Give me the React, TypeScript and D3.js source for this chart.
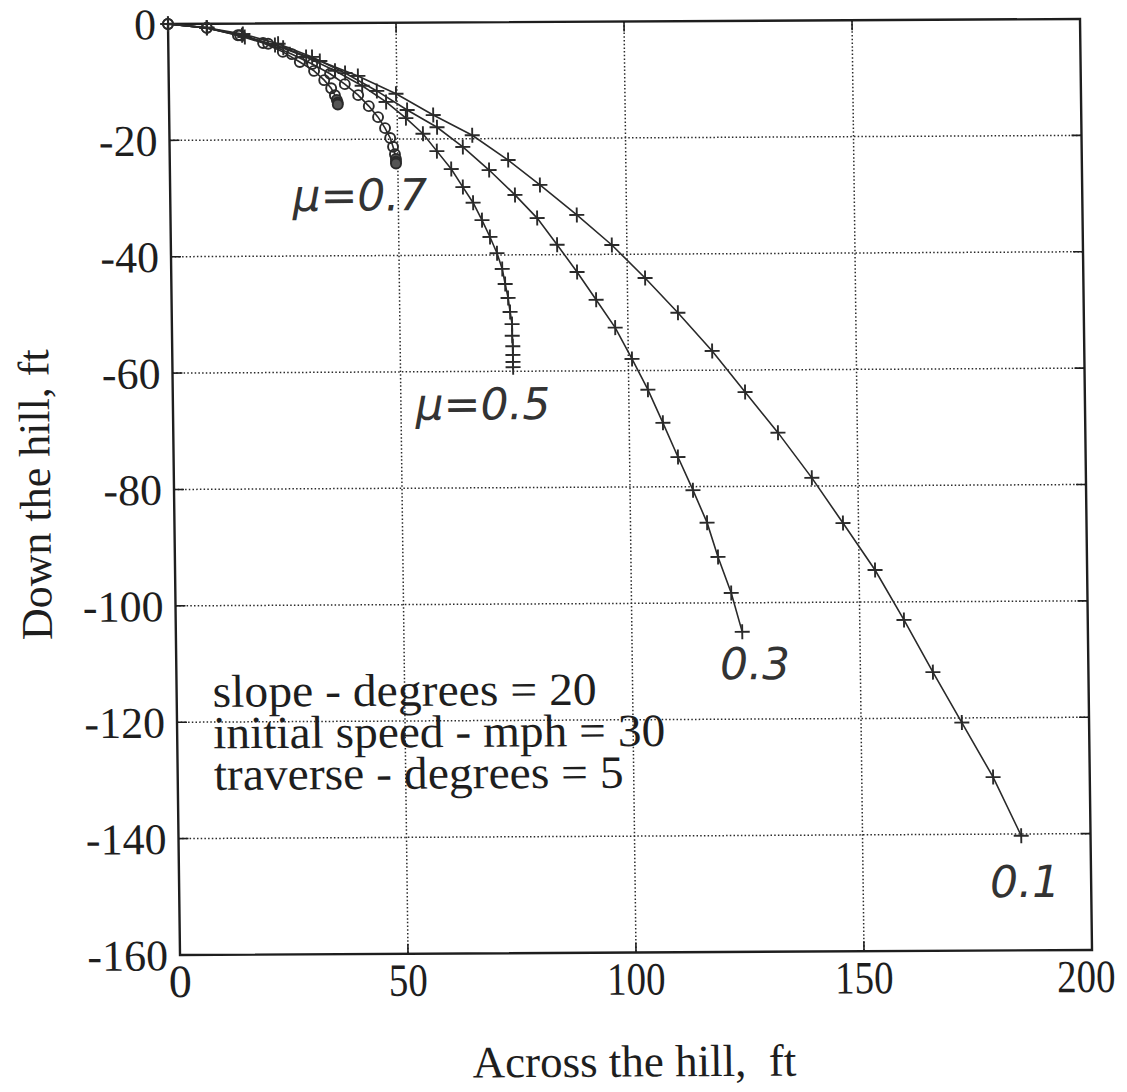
import React, { useEffect, useRef } from 'react';
import * as d3 from 'd3';

// ---------- data (feet) ----------
const xTicks = [0, 50, 100, 150, 200];
const yTicks = [0, -20, -40, -60, -80, -100, -120, -140, -160];

const mu01X = [0, 8.5, 16.8, 25.2, 33.2, 41.5, 49.8, 57.9, 66.4, 74.2, 81.1, 89.1, 96.7, 103.9, 111.0, 118.4, 125.5, 132.6, 139.9, 146.6, 153.5, 159.7, 165.9, 172.1, 178.8, 184.8];
const mu01Y = [0, -0.7, -2.3, -4.2, -6.5, -9.1, -12.2, -15.9, -19.4, -23.7, -28.0, -33.2, -38.4, -44.1, -50.1, -56.7, -63.8, -70.8, -78.6, -86.4, -94.5, -103.1, -112.1, -120.8, -130.2, -140.3];

const mu03X = [0, 8.5, 16.4, 24.1, 31.5, 38.7, 45.6, 52.2, 58.7, 64.3, 70.0, 75.6, 80.4, 84.7, 89.0, 93.1, 97.2, 100.8, 104.2, 107.4, 110.6, 113.8, 116.8, 119.1, 121.9, 124.2];
const mu03Y = [0, -0.7, -1.8, -3.5, -5.8, -8.6, -11.7, -15.0, -18.0, -21.4, -25.4, -29.7, -33.7, -38.3, -43.0, -47.8, -52.6, -58.0, -63.3, -69.0, -74.9, -80.6, -86.2, -92.1, -98.3, -105.0];

const mu05X = [0, 8.5, 16.2, 23.4, 30.2, 36.5, 42.4, 47.6, 51.9, 55.6, 58.6, 61.7, 64.2, 66.4, 68.3, 70.0, 71.5, 72.6, 73.2, 73.8, 74.2, 74.6, 74.6, 74.7, 74.7, 74.7, 74.7];
const mu05Y = [0, -0.7, -2.0, -3.7, -5.8, -8.2, -10.8, -13.6, -16.4, -19.1, -22.1, -25.2, -28.3, -31.0, -34.0, -36.9, -39.7, -42.4, -45.0, -47.4, -49.8, -51.9, -53.9, -55.7, -57.2, -58.4, -59.3];

const mu07X = [0, 8.5, 15.8, 21.9, 27.1, 31.5, 35.4, 38.6, 41.5, 43.8, 45.8, 47.3, 48.4, 49.0, 49.4, 49.6, 49.6, 49.6];
const mu07Y = [0, -0.7, -2.0, -3.5, -5.3, -7.0, -8.7, -10.5, -12.4, -14.3, -16.2, -18.1, -19.8, -21.3, -22.6, -23.4, -23.9, -24.2];

const mu09X = [0, 8.5, 15.3, 20.8, 25.1, 28.8, 31.9, 34.1, 35.6, 36.4, 36.8, 37.0, 37.0];
const mu09Y = [0, -0.7, -2.0, -3.35, -4.9, -6.65, -8.2, -9.8, -11.2, -12.4, -13.2, -13.7, -14.0];

const series = [
  { mu: '0.1', xs: mu01X, ys: mu01Y, marker: '+' },
  { mu: '0.3', xs: mu03X, ys: mu03Y, marker: '+' },
  { mu: '0.5', xs: mu05X, ys: mu05Y, marker: '+' },
  { mu: '0.7', xs: mu07X, ys: mu07Y, marker: 'o' },
  { mu: '0.9', xs: mu09X, ys: mu09Y, marker: 'o' },
];

const curveLabels = [
  { text: 'μ=0.7', x: 41.6, y: -29.6 },
  { text: 'μ=0.5', x: 68.0, y: -65.6 },
  { text: '0.3', x: 126.9, y: -110.5 },
  { text: '0.1', x: 185.5, y: -148.2 },
];

const noteLines = ['slope - degrees = 20', 'initial speed - mph = 30', 'traverse - degrees = 5'];
const noteWidths = [384, 452, 410];

export default function App() {
  const ref = useRef<SVGSVGElement>(null);

  useEffect(() => {
    const svg = d3.select(ref.current);
    svg.selectAll('*').remove();
    const W = 912;
    const H = 931;
    const x = d3.scaleLinear().domain([0, 200]).range([0, W]);
    const y = d3.scaleLinear().domain([0, -160]).range([0, H]);
    const ink = '#1e1e1e';
    const serif = 'Liberation Serif, Times New Roman, serif';

    const g = svg.append('g').attr('transform', 'matrix(1,-0.0055,0.0129,1,168,24)');

    // dotted grid
    const grid = g.append('g').attr('stroke', '#2a2a2a').attr('stroke-width', 1.5).attr('stroke-dasharray', '1.5 2.2');
    xTicks.slice(1, -1).forEach((t) => {
      grid.append('line').attr('x1', x(t)).attr('x2', x(t)).attr('y1', 0).attr('y2', H);
    });
    yTicks.slice(1, -1).forEach((t) => {
      grid.append('line').attr('x1', 0).attr('x2', W).attr('y1', y(t)).attr('y2', y(t));
    });

    // ticks
    const ticks = g.append('g').attr('stroke', ink).attr('stroke-width', 1.6);
    const tl = 10;
    xTicks.slice(1, -1).forEach((t) => {
      ticks.append('line').attr('x1', x(t)).attr('x2', x(t)).attr('y1', H).attr('y2', H - tl);
      ticks.append('line').attr('x1', x(t)).attr('x2', x(t)).attr('y1', 0).attr('y2', tl);
    });
    yTicks.slice(1, -1).forEach((t) => {
      ticks.append('line').attr('x1', 0).attr('x2', tl).attr('y1', y(t)).attr('y2', y(t));
      ticks.append('line').attr('x1', W).attr('x2', W - tl).attr('y1', y(t)).attr('y2', y(t));
    });

    // frame
    g.append('rect').attr('x', 0).attr('y', 0).attr('width', W).attr('height', H)
      .attr('fill', 'none').attr('stroke', ink).attr('stroke-width', 2.4);

    // tick labels
    g.append('g').selectAll('text').data(yTicks).join('text')
      .attr('x', -12).attr('y', (d) => y(d)).attr('dy', '0.35em')
      .attr('text-anchor', 'end').attr('font-family', serif)
      .attr('font-size', 44).attr('fill', ink).text((d) => String(d));
    g.append('g').selectAll('text').data(xTicks).join('text')
      .attr('x', (d) => x(d) - (d === 200 ? 6 : 0)).attr('y', H + 42)
      .attr('text-anchor', 'middle').attr('font-family', serif)
      .attr('font-size', 46).attr('fill', ink)
      .each(function (d) {
        const n = String(d).length;
        if (n > 1) d3.select(this).attr('textLength', n * 19.5).attr('lengthAdjust', 'spacingAndGlyphs');
      })
      .text((d) => String(d));

    // axis titles
    g.append('text').attr('transform', `translate(${-124},${470}) rotate(-90)`)
      .attr('text-anchor', 'middle').attr('font-family', serif)
      .attr('font-size', 44).attr('fill', ink).text('Down the hill, ft');
    g.append('text').attr('x', 453).attr('y', 1055)
      .attr('text-anchor', 'middle').attr('font-family', serif)
      .style('white-space', 'pre')
      .attr('font-size', 45).attr('fill', ink).text('Across the hill,  ft');

    // note text
    const note = g.append('g').attr('font-family', serif)
      .attr('font-size', 46).attr('fill', ink);
    noteLines.forEach((s, i) => {
      note.append('text').attr('x', 36).attr('y', 683 + i * 41.5)
        .attr('textLength', noteWidths[i]).attr('lengthAdjust', 'spacingAndGlyphs').text(s);
    });

    // curves
    const line = d3.line<[number, number]>().x((d) => x(d[0])).y((d) => y(d[1]));
    series.forEach((s) => {
      const pts: [number, number][] = s.xs.map((v, i) => [v, s.ys[i]]);
      g.append('path').attr('d', line(pts)).attr('fill', 'none').attr('stroke', '#2a2a2a').attr('stroke-width', 1.6);
      const mg = g.append('g').attr('stroke', '#2a2a2a').attr('stroke-width', 1.9);
      const n = pts.length;
      pts.forEach((p, i) => {
        const px = x(p[0]);
        const py = y(p[1]);
        if (s.marker === '+') {
          const r = 7.5;
          mg.append('path').attr('d', `M${px - r},${py}H${px + r}M${px},${py - r}V${py + r}`).attr('fill', 'none');
        } else {
          mg.append('circle').attr('cx', px).attr('cy', py).attr('r', 5)
            .attr('fill', i >= n - 3 ? '#555' : 'none');
        }
      });
    });

    // handwritten labels
    g.append('g').selectAll('text').data(curveLabels).join('text')
      .attr('x', (d) => x(d.x)).attr('y', (d) => y(d.y)).attr('dy', '0.35em')
      .attr('text-anchor', 'middle').attr('font-family', 'DejaVu Sans, sans-serif')
      .attr('font-style', 'italic').attr('font-weight', 200)
      .attr('font-size', 44).attr('fill', '#333').text((d) => d.text);
  }, []);

  return (
    <svg ref={ref} width={1127} height={1092}
      style={{ position: 'absolute', left: 0, top: 0, background: '#fff' }} />
  );
}
